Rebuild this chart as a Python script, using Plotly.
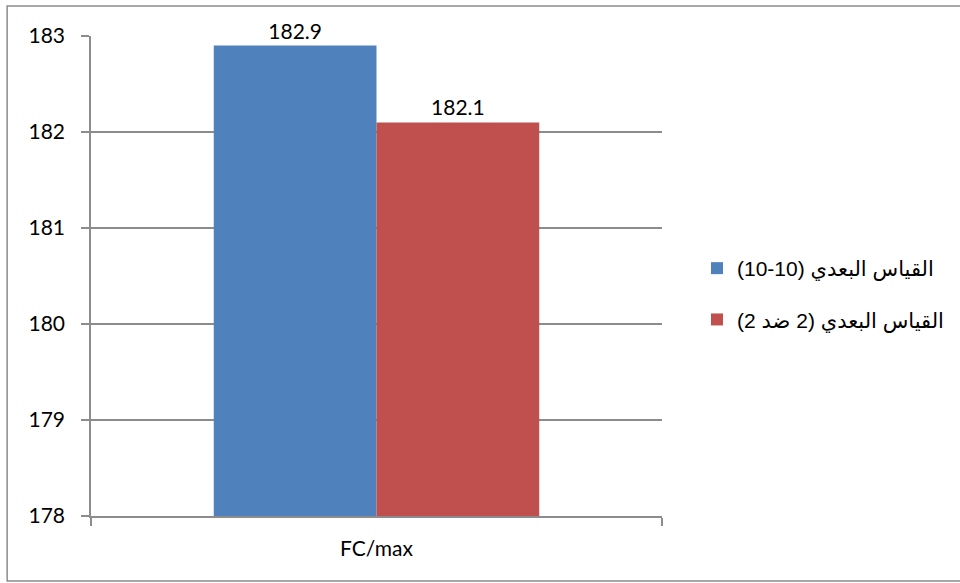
import plotly.graph_objects as go

# Data
categories = ["FC/max"]
series_names = ["\u202bالقياس البعدي (10-10)\u202c", "\u202bالقياس البعدي (2 ضد 2)\u202c"]
series_values = [[182.9], [182.1]]
series_colors = ["#4F81BD", "#C0504D"]
y_ticks = [178, 179, 180, 181, 182, 183]

fig = go.Figure()
for i, (name, vals, col) in enumerate(zip(series_names, series_values, series_colors)):
    fig.add_trace(go.Bar(
        x=categories, y=vals, name=name, marker=dict(color=col, line=dict(width=0)),
        text=[f"{v:.1f}" for v in vals], textposition="outside",
        textfont=dict(family="Lato", size=21, color="#000000"),
        cliponaxis=False, legendgroup=f"g{i}",
    ))

L, R, T, B = 91, 297, 36, 67
W, H = 960, 583
pw, ph = W - L - R, H - T - B

fig.update_layout(
    width=W, height=H,
    margin=dict(l=L, r=R, t=T, b=B, pad=0),
    paper_bgcolor="white", plot_bgcolor="white",
    barmode="group", bargap=0.43, bargroupgap=0,
    font=dict(family="Lato", size=21, color="#000000"),
    legend=dict(
        x=(697 - L) / pw, y=(H - B - 294) / ph, xanchor="left", yanchor="middle",
        font=dict(family="Liberation Sans, DejaVu Sans", size=21, color="#000000"),
        traceorder="grouped", tracegroupgap=21, itemwidth=30,
        bgcolor="rgba(0,0,0,0)",
    ),
    shapes=[dict(
        type="rect", xref="paper", yref="paper",
        x0=(7 - L) / pw, x1=(966 - L) / pw,
        y0=(H - B - 581) / ph, y1=(H - B - 6) / ph,
        line=dict(color="#8C8C8C", width=1.5), fillcolor="rgba(0,0,0,0)", layer="below",
    )],
)

fig.update_xaxes(
    range=[-0.5, 0.5], showline=True, linecolor="#8C8C8C", linewidth=1.5,
    ticks="outside", tickson="boundaries", ticklen=8, tickcolor="#8C8C8C", tickwidth=1.5,
    showgrid=False, tickfont=dict(family="Lato", size=21), ticklabelstandoff=13,
)
fig.update_yaxes(
    range=[178, 183], tickvals=y_ticks, showline=True, linecolor="#8C8C8C", linewidth=1.5,
    ticks="outside", ticklen=8, tickcolor="#8C8C8C", tickwidth=1.5,
    showgrid=True, gridcolor="#8C8C8C", gridwidth=1.5, zeroline=False,
    tickfont=dict(family="Lato", size=21), ticklabelstandoff=12,
)

fig.write_html("out.html")
